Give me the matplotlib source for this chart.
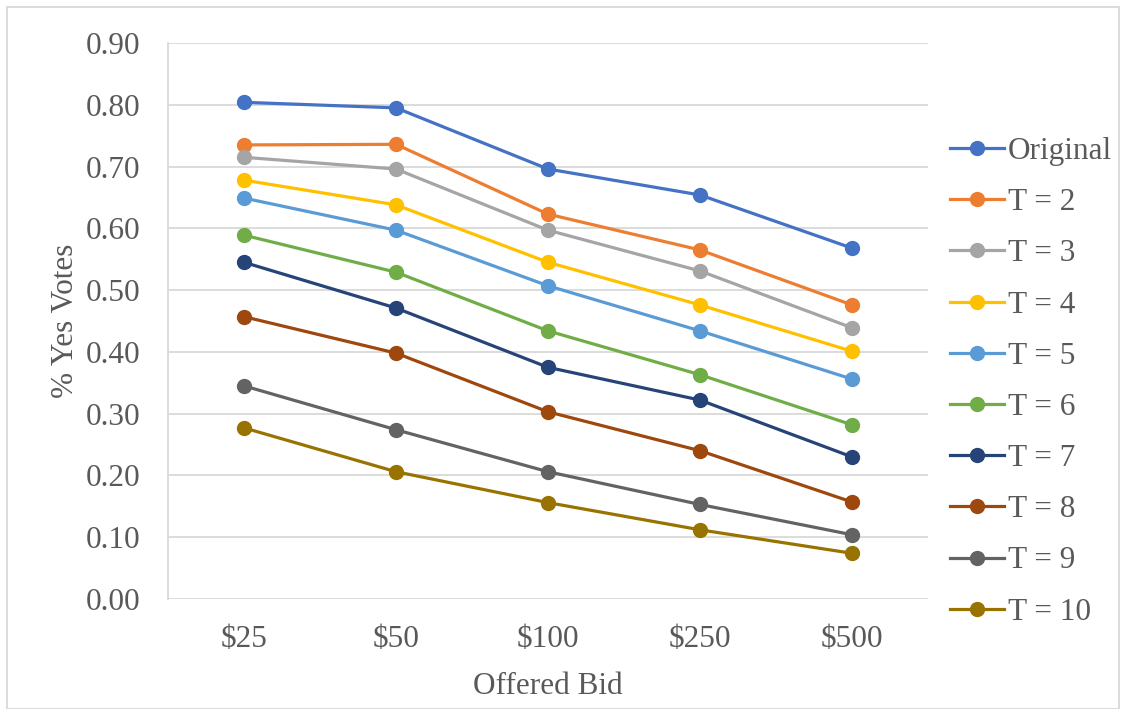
import matplotlib.pyplot as plt
from matplotlib.patches import Rectangle

bids = ["$25", "$50", "$100", "$250", "$500"]
labels = ["Original", "T = 2", "T = 3", "T = 4", "T = 5",
          "T = 6", "T = 7", "T = 8", "T = 9", "T = 10"]

original = [0.804, 0.795, 0.696, 0.654, 0.568]
t2 = [0.735, 0.736, 0.623, 0.565, 0.476]
t3 = [0.715, 0.696, 0.597, 0.531, 0.439]
t4 = [0.678, 0.638, 0.545, 0.476, 0.401]
t5 = [0.649, 0.597, 0.507, 0.434, 0.356]
t6 = [0.589, 0.529, 0.434, 0.363, 0.282]
t7 = [0.545, 0.471, 0.375, 0.322, 0.230]
t8 = [0.457, 0.398, 0.303, 0.240, 0.157]
t9 = [0.345, 0.274, 0.206, 0.153, 0.104]
t10 = [0.277, 0.206, 0.156, 0.112, 0.074]

series = [original, t2, t3, t4, t5, t6, t7, t8, t9, t10]
colors = ["#4472C4", "#ED7D31", "#A5A5A5", "#FFC000", "#5B9BD5",
          "#70AD47", "#264478", "#9E480E", "#636363", "#997300"]

plt.rcParams['font.family'] = ['Liberation Serif', 'DejaVu Serif']
txt = "#595959"
fs = 22.5

fig = plt.figure(figsize=(11.21, 7.09), dpi=100)
ax = fig.add_axes([168 / 1121, 1 - 599 / 709, (928 - 168) / 1121, (599 - 43) / 709])

x = range(len(bids))
for vals, lab, c in zip(series, labels, colors):
    ax.plot(x, vals, color=c, lw=2.3, marker="o", ms=10, label=lab, zorder=3)

ax.set_xlim(-0.5, 4.5)
ax.set_ylim(0, 0.9)
ax.set_yticks([i / 10 for i in range(10)])
ax.set_yticklabels([f"{i / 10:.2f}" for i in range(10)])
ax.set_xticks(list(x))
ax.set_xticklabels(bids)
ax.tick_params(length=0, labelsize=fs, colors=txt)
ax.tick_params(axis="y", pad=20)
ax.tick_params(axis="x", pad=19)
ax.grid(axis="y", color="#D9D9D9", lw=1.3)
ax.set_axisbelow(True)
for s in ["top", "right", "bottom"]:
    ax.spines[s].set_visible(False)
ax.spines["left"].set_color("#D9D9D9")
ax.spines["left"].set_linewidth(1.3)

ax.set_xlabel("Offered Bid", fontsize=fs, color=txt, labelpad=13)
ax.set_ylabel("% Yes Votes", fontsize=fs, color=txt, labelpad=4)

leg = ax.legend(loc="upper left", bbox_to_anchor=(950 / 1121, 1 - 137 / 709),
                bbox_transform=fig.transFigure, frameon=False, fontsize=fs,
                labelspacing=0.71, handlelength=1.73, handletextpad=0.13,
                borderaxespad=0, borderpad=0)
for t in leg.get_texts():
    t.set_color(txt)

fig.patches.append(Rectangle((7 / 1121, 0), 1 - 7 / 1121 - 2 / 1121, 1 - 7 / 709,
                             transform=fig.transFigure, fill=False,
                             edgecolor="#D9D9D9", lw=1.3))

fig.savefig("out.png", dpi=100)
